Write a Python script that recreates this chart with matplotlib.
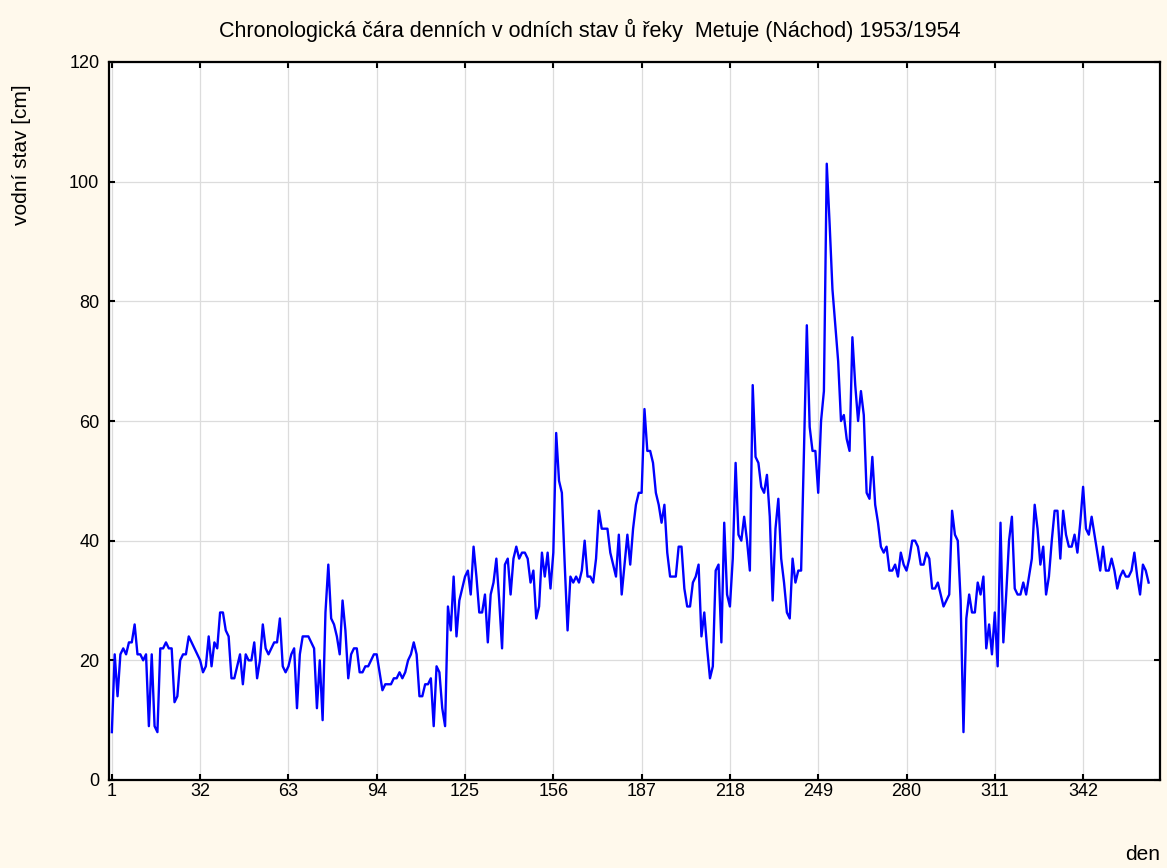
import matplotlib
matplotlib.use("Agg")
import matplotlib.pyplot as plt
import numpy as np

plt.rcParams['font.family'] = ['Liberation Sans', 'DejaVu Sans']

days = list(range(1, 366))
levels = [
    8, 21, 14, 21, 22, 21, 23, 23, 26, 21, 21, 20, 21, 9, 21, 9, 8, 22, 22, 23,
    22, 22, 13, 14, 20, 21, 21, 24, 23, 22, 21, 20, 18, 19, 24, 19, 23, 22, 28, 28,
    25, 24, 17, 17, 19, 21, 16, 21, 20, 20, 23, 17, 20, 26, 22, 21, 22, 23, 23, 27,
    19, 18, 19, 21, 22, 12, 21, 24, 24, 24, 23, 22, 12, 20, 10, 28, 36, 27, 26, 24,
    21, 30, 25, 17, 21, 22, 22, 18, 18, 19, 19, 20, 21, 21, 18, 15, 16, 16, 16, 17,
    17, 18, 17, 18, 20, 21, 23, 21, 14, 14, 16, 16, 17, 9, 19, 18, 12, 9, 29, 25,
    34, 24, 30, 32, 34, 35, 31, 39, 34, 28, 28, 31, 23, 31, 33, 37, 30, 22, 36, 37,
    31, 37, 39, 37, 38, 38, 37, 33, 35, 27, 29, 38, 34, 38, 32, 38, 58, 50, 48, 36,
    25, 34, 33, 34, 33, 35, 40, 34, 34, 33, 37, 45, 42, 42, 42, 38, 36, 34, 41, 31,
    36, 41, 36, 42, 46, 48, 48, 62, 55, 55, 53, 48, 46, 43, 46, 38, 34, 34, 34, 39,
    39, 32, 29, 29, 33, 34, 36, 24, 28, 22, 17, 19, 35, 36, 23, 43, 31, 29, 37, 53,
    41, 40, 44, 40, 35, 66, 54, 53, 49, 48, 51, 44, 30, 42, 47, 37, 33, 28, 27, 37,
    33, 35, 35, 55, 76, 59, 55, 55, 48, 60, 65, 103, 93, 82, 76, 70, 60, 61, 57, 55,
    74, 66, 60, 65, 61, 48, 47, 54, 46, 43, 39, 38, 39, 35, 35, 36, 34, 38, 36, 35,
    37, 40, 40, 39, 36, 36, 38, 37, 32, 32, 33, 31, 29, 30, 31, 45, 41, 40, 30, 8,
    27, 31, 28, 28, 33, 31, 34, 22, 26, 21, 28, 19, 43, 23, 31, 40, 44, 32, 31, 31,
    33, 31, 34, 37, 46, 42, 36, 39, 31, 34, 40, 45, 45, 37, 45, 41, 39, 39, 41, 38,
    43, 49, 42, 41, 44, 41, 38, 35, 39, 35, 35, 37, 35, 32, 34, 35, 34, 34, 35, 38,
    34, 31, 36, 35, 33,
]
x_ticks = [1, 32, 63, 94, 125, 156, 187, 218, 249, 280, 311, 342]
y_ticks = [0, 20, 40, 60, 80, 100, 120]

title = "Chronologická čára denních v odních stav ů řeky  Metuje (Náchod) 1953/1954"
ylabel = "vodní stav [cm]"
xlabel = "den"

W, H = 1167, 868
fig = plt.figure(figsize=(W / 100, H / 100), dpi=100)
fig.patch.set_facecolor('#FFF9EC')

ax = fig.add_axes([109 / W, 88 / H, 1051 / W, 718 / H])
ax.set_facecolor('white')
ax.plot(days, levels, color='#0000FF', linewidth=1.7, zorder=3)

ax.set_xlim(0, 369)
ax.set_ylim(0, 120)
ax.set_xticks(x_ticks)
ax.set_yticks(y_ticks)
ax.grid(True, color='#DCDCDC', linewidth=0.9, zorder=0)
ax.set_axisbelow(True)

for sp in ax.spines.values():
    sp.set_linewidth(1.6)
    sp.set_color('black')

ax.tick_params(axis='both', direction='in', top=True, right=True,
               length=4, width=1.5, labelsize=13, colors='black')
ax.tick_params(axis='x', pad=2)
ax.tick_params(axis='y', pad=7)

fig.text(590 / W, 1 - 30 / H, title, ha='center', va='center', fontsize=15.5)
fig.text(22 / W, 1 - 155 / H, ylabel, ha='center', va='center',
         rotation=90, fontsize=15)
fig.text(1143 / W, 1 - 855 / H, xlabel, ha='center', va='center', fontsize=15)

fig.savefig("out.png", dpi=100, facecolor=fig.get_facecolor())
